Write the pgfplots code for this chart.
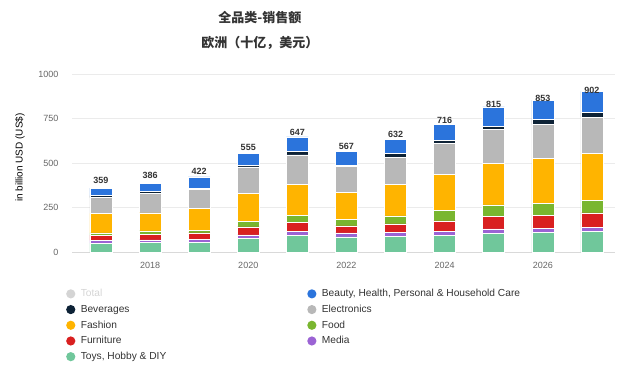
\documentclass[border=0pt]{standalone}
\usepackage{pgfplots}
\pgfplotsset{compat=1.18}
\usepackage{pgfplotstable}
\usepackage{fontspec}
\setmainfont{Liberation Sans}
\newfontfamily\cjk{Noto Sans CJK SC}
\definecolor{ctoys}{HTML}{70C79B}
\definecolor{cmedia}{HTML}{9B63D4}
\definecolor{cfurn}{HTML}{D92020}
\definecolor{cfood}{HTML}{79B62F}
\definecolor{cfash}{HTML}{FFB400}
\definecolor{celec}{HTML}{B8B8B8}
\definecolor{cbev}{HTML}{0D2236}
\definecolor{cbeauty}{HTML}{2B74DC}
\definecolor{ctotal}{HTML}{D4D4D4}
\definecolor{txt}{HTML}{333333}
\definecolor{tick}{HTML}{666666}
\pgfplotstableread{
year toys media furn food fash elec bev beauty total
2017 50 15 30 12 110 88 12 42 359
2018 52 16 30 20 102 110 10 46 386
2019 52 20 35 15 123 105 6 66 422
2020 78 18 45 30 159 148 7 70 555
2021 92 22 52 41 174 165 20 81 647
2022 85 22 40 36 150 147 6 81 567
2023 88 20 50 45 177 150 22 80 632
2024 95 22 58 60 200 173 18 90 716
2025 105 25 70 65 235 188 18 109 815
2026 110 22 75 66 253 190 28 109 853
2027 115 25 80 72 264 200 28 118 902
}\datatable
\begin{document}
\begin{tikzpicture}
\useasboundingbox (0,0) rectangle (626bp,-367bp);
\begin{axis}[
  at={(72bp,-252bp)}, anchor=south west,
  scale only axis, width=543bp, height=178bp,
  xmin=2016.41, xmax=2027.47, ymin=0, ymax=1000,
  ybar stacked, bar width=22bp,
  axis lines=left, axis line style={-},
  y axis line style={draw=none},
  x axis line style={draw=black!15, line width=0.8pt},
  major tick length=0pt,
  ymajorgrids, grid style={black!8, line width=0.6pt},
  ytick={0,250,500,750,1000},
  xtick={2018,2020,2022,2024,2026},
  /pgf/number format/assume math mode=true,
  /pgf/number format/set thousands separator={},
  tick label style={font=\fontsize{9bp}{10bp}\selectfont, text=tick},
  yticklabel style={xshift=-10bp},
  xticklabel style={yshift=-7bp},
  ylabel={in billion USD (US\$)},
  ylabel style={font=\fontsize{9.5bp}{11bp}\selectfont, text=tick},
  every axis y label/.style={at={(axis description cs:-0.0958,0.53)}, rotate=90, anchor=center},
  title={全品类-销售额\\欧洲（十亿，美元）},
  title style={font=\cjk\bfseries\fontsize{13bp}{25bp}\selectfont, text=txt, align=center, at={(axis description cs:0.346,1.21)}, anchor=center},
  every axis plot/.append style={draw=white, line width=0.6pt},
  legend image code/.code={\fill[#1] (0bp,0bp) circle (4.6bp); \path (8.5bp,0bp);},
  legend columns=2,
  legend cell align=left,
  legend style={at={(axis description cs:-0.0166,-0.185)}, anchor=north west, draw=none, fill=none,
    font=\fontsize{10.2bp}{12bp}\selectfont, text=txt, row sep=2.2bp,
    nodes={inner sep=1.5bp, text height=8bp, text depth=2.5bp}},
]
\addplot[fill=ctoys, forget plot] table[x=year, y=toys] {\datatable};
\addplot[fill=cmedia, forget plot] table[x=year, y=media] {\datatable};
\addplot[fill=cfurn, forget plot] table[x=year, y=furn] {\datatable};
\addplot[fill=cfood, forget plot] table[x=year, y=food] {\datatable};
\addplot[fill=cfash, forget plot] table[x=year, y=fash] {\datatable};
\addplot[fill=celec, forget plot] table[x=year, y=elec] {\datatable};
\addplot[fill=cbev, forget plot] table[x=year, y=bev] {\datatable};
\addplot[fill=cbeauty, forget plot, point meta=explicit,
  nodes near coords={\pgfmathprintnumber{\pgfplotspointmeta}},
  nodes near coords style={font=\bfseries\fontsize{9bp}{10bp}\selectfont, text=txt, anchor=south, yshift=5bp}]
  table[x=year, y=beauty, meta=total] {\datatable};
\addlegendimage{fill=ctotal, draw=none}
\addlegendentry{\makebox[225bp][l]{\textcolor{ctotal}{Total}}}
\addlegendimage{fill=cbeauty, draw=none}
\addlegendentry{Beauty, Health, Personal \& Household Care}
\addlegendimage{fill=cbev, draw=none}
\addlegendentry{\makebox[225bp][l]{Beverages}}
\addlegendimage{fill=celec, draw=none}
\addlegendentry{Electronics}
\addlegendimage{fill=cfash, draw=none}
\addlegendentry{\makebox[225bp][l]{Fashion}}
\addlegendimage{fill=cfood, draw=none}
\addlegendentry{Food}
\addlegendimage{fill=cfurn, draw=none}
\addlegendentry{\makebox[225bp][l]{Furniture}}
\addlegendimage{fill=cmedia, draw=none}
\addlegendentry{Media}
\addlegendimage{fill=ctoys, draw=none}
\addlegendentry{\makebox[225bp][l]{Toys, Hobby \& DIY}}
\end{axis}
\end{tikzpicture}
\end{document}
